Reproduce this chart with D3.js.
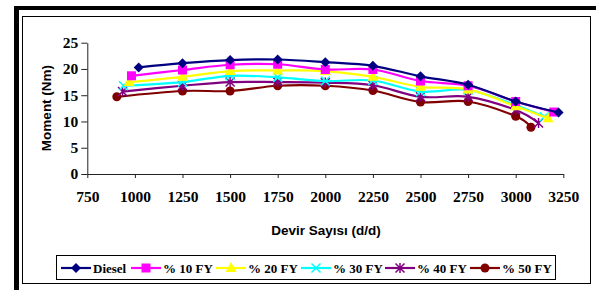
<!DOCTYPE html>
<html>
<head>
<meta charset="utf-8">
<script src="https://cdn.jsdelivr.net/npm/d3@7"></script>
<style>
body { margin: 0; background: #fff; }
svg { display: block; }
</style>
</head>
<body>
<svg id="chart" width="596" height="290"></svg>
<script>
// devir sayisi (d/d) ve moment (Nm) degerleri
var seriesNames = ["Diesel", "% 10 FY", "% 20 FY", "% 30 FY", "% 40 FY", "% 50 FY"];
var seriesColors = ["#000080", "#ff00ff", "#ffff00", "#00ffff", "#800080", "#800000"];
var seriesMarkers = ["diamond", "square", "triangle", "x", "star", "circle"];

var rpmDiesel = [1020, 1250, 1500, 1750, 2000, 2250, 2500, 2750, 3000, 3225];
var rpmFY10   = [982, 1250, 1500, 1750, 2000, 2250, 2500, 2750, 3000, 3200];
var rpmFY20   = [970, 1250, 1500, 1750, 2000, 2250, 2500, 2750, 3000, 3170];
var rpmFY30   = [940, 1250, 1500, 1750, 2000, 2250, 2500, 2750, 3000, 3150];
var rpmFY40   = [935, 1250, 1500, 1750, 2000, 2250, 2500, 2750, 3000, 3120];
var rpmFY50   = [905, 1250, 1500, 1750, 2000, 2250, 2500, 2750, 3000, 3080];

var momDiesel = [20.3, 21.1, 21.7, 21.8, 21.3, 20.6, 18.6, 17.0, 13.8, 11.7];
var momFY10   = [18.7, 19.8, 20.8, 20.9, 19.9, 19.9, 17.7, 16.8, 13.8, 11.8];
var momFY20   = [17.5, 18.5, 19.6, 19.7, 19.6, 18.5, 16.6, 16.1, 12.9, 10.6];
var momFY30   = [16.8, 17.5, 18.7, 18.4, 17.7, 17.8, 15.7, 16.0, 13.1, 10.9];
var momFY40   = [15.7, 16.8, 17.5, 17.5, 17.4, 16.9, 14.7, 14.7, 12.2, 9.7];
var momFY50   = [14.7, 15.8, 15.8, 16.8, 16.8, 15.9, 13.7, 13.8, 11.0, 8.9];

var xTicks = [750, 1000, 1250, 1500, 1750, 2000, 2250, 2500, 2750, 3000, 3250];
var yTicks = [0, 5, 10, 15, 20, 25];

var rpmAll = [rpmDiesel, rpmFY10, rpmFY20, rpmFY30, rpmFY40, rpmFY50];
var momAll = [momDiesel, momFY10, momFY20, momFY30, momFY40, momFY50];

var svg = d3.select("#chart");

// cerceve
svg.append("rect").attr("x", 14).attr("y", 6).attr("width", 5).attr("height", 284).attr("fill", "#000");
svg.append("rect").attr("x", 14).attr("y", 6).attr("width", 582).attr("height", 4).attr("fill", "#000");
svg.append("rect").attr("x", 22.5).attr("y", 16.5).attr("width", 568).attr("height", 267)
	.attr("fill", "none").attr("stroke", "#000").attr("stroke-width", 1);

var x = d3.scaleLinear().domain([750, 3250]).range([87.3, 563.3]);
var y = d3.scaleLinear().domain([0, 25]).range([174, 42.7]);

var gx = svg.append("g").attr("transform", "translate(0," + y(0) + ")")
	.call(d3.axisBottom(x).tickValues(xTicks).tickFormat(d3.format("d"))
		.tickSize(4).tickPadding(13).tickSizeOuter(0));
var gy = svg.append("g").attr("transform", "translate(" + x(750) + ",0)")
	.call(d3.axisLeft(y).tickValues(yTicks).tickFormat(d3.format("d"))
		.tickSize(6).tickPadding(3).tickSizeOuter(0));

[gx, gy].forEach(function(g) {
	g.select(".domain").attr("stroke", "#222");
	g.selectAll(".tick line").attr("stroke", "#222");
	g.selectAll(".tick text")
		.attr("font-family", "'Liberation Serif', 'Times New Roman', serif")
		.attr("font-weight", "bold")
		.attr("font-size", "15.5px")
		.attr("fill", "#000");
});

svg.append("text")
	.attr("transform", "translate(51,108) rotate(-90)")
	.attr("text-anchor", "middle")
	.attr("font-family", "'Liberation Sans', Arial, sans-serif")
	.attr("font-weight", "bold")
	.attr("font-size", "13.5px")
	.text("Moment (Nm)");

svg.append("text")
	.attr("x", 326).attr("y", 235)
	.attr("text-anchor", "middle")
	.attr("font-family", "'Liberation Sans', Arial, sans-serif")
	.attr("font-weight", "bold")
	.attr("font-size", "13.5px")
	.text("Devir Sayısı (d/d)");

function drawMarker(g, type, color) {
	if (type == "diamond") {
		g.append("path").attr("d", "M0,-5L5,0L0,5L-5,0Z").attr("fill", color);
	} else if (type == "square") {
		g.append("rect").attr("x", -4.5).attr("y", -4.5).attr("width", 9).attr("height", 9).attr("fill", color);
	} else if (type == "triangle") {
		g.append("path").attr("d", "M0,-6L5.5,4L-5.5,4Z").attr("fill", color);
	} else if (type == "x") {
		g.append("path").attr("d", "M-4.5,-4.5L4.5,4.5M-4.5,4.5L4.5,-4.5").attr("stroke", color).attr("stroke-width", 1.5);
	} else if (type == "star") {
		g.append("path").attr("d", "M-4.5,-4.5L4.5,4.5M-4.5,4.5L4.5,-4.5M0,-5L0,5").attr("stroke", color).attr("stroke-width", 1.5);
	} else if (type == "circle") {
		g.append("circle").attr("r", 4.5).attr("fill", color);
	}
}

var line = d3.line()
	.x(function(d) { return x(d[0]); })
	.y(function(d) { return y(d[1]); })
	.curve(d3.curveCatmullRom.alpha(0));

// en alttaki seri once cizilsin
for (var s = seriesNames.length - 1; s >= 0; s--) {
	var pts = d3.zip(rpmAll[s], momAll[s]);
	svg.append("path")
		.datum(pts)
		.attr("d", line)
		.attr("fill", "none")
		.attr("stroke", seriesColors[s])
		.attr("stroke-width", 2.2);
	for (var i = 0; i < pts.length; i++) {
		var mg = svg.append("g").attr("transform", "translate(" + x(pts[i][0]) + "," + y(pts[i][1]) + ")");
		drawMarker(mg, seriesMarkers[s], seriesColors[s]);
	}
}

// lejant
svg.append("rect").attr("x", 56.5).attr("y", 255.5).attr("width", 499).attr("height", 24)
	.attr("fill", "#fff").attr("stroke", "#000").attr("stroke-width", 1);

var legX = [61, 131, 216, 301, 385, 470];
for (var k = 0; k < seriesNames.length; k++) {
	var lg = svg.append("g").attr("transform", "translate(" + legX[k] + ",268)");
	lg.append("line").attr("x1", 0).attr("x2", 30).attr("y1", 0).attr("y2", 0)
		.attr("stroke", seriesColors[k]).attr("stroke-width", 2.2);
	var mk = lg.append("g").attr("transform", "translate(15,0)");
	drawMarker(mk, seriesMarkers[k], seriesColors[k]);
	lg.append("text").attr("x", 32).attr("y", 4.5)
		.attr("font-family", "'Liberation Serif', 'Times New Roman', serif")
		.attr("font-weight", "bold")
		.attr("font-size", "13px")
		.text(seriesNames[k]);
}
</script>
</body>
</html>
